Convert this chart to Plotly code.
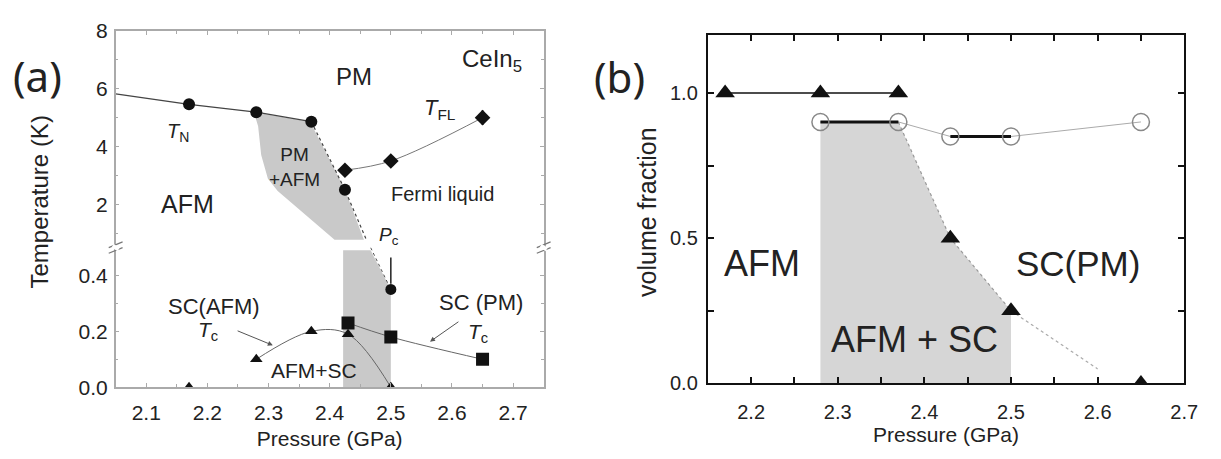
import plotly.graph_objects as go

# ---------------- panel (a): T-P phase diagram of CeIn5 ----------------
# Neel temperature T_N (upper scale)
tn_p = [2.05, 2.17, 2.28, 2.37, 2.425, 2.46]
tn_t = [5.82, 5.46, 5.19, 4.86, 2.50, 0.77]
tn_pts_p = [2.17, 2.28, 2.37, 2.425]
tn_pts_t = [5.46, 5.19, 4.86, 2.50]

# Fermi-liquid temperature T_FL with error bars
tfl_p = [2.425, 2.50, 2.65]
tfl_t = [3.18, 3.50, 5.00]
tfl_err_t = [0.15, 0.15, 0.25]
tfl_err_p = [0.007, 0.007, 0.007]

# PM + AFM coexistence region (upper scale)
pmafm_p = [2.276, 2.368, 2.425, 2.456, 2.408, 2.315, 2.299, 2.288, 2.283, 2.276]
pmafm_t = [5.19, 4.86, 2.50, 0.77, 0.77, 2.46, 2.88, 3.71, 4.70, 5.19]

# AFM + SC coexistence region (lower scale)
afmsc_p = [2.422, 2.422, 2.467, 2.50, 2.50]
afmsc_t = [0.0, 0.49, 0.49, 0.35, 0.0]

# boundary continuing to P_c
pc_line_p = [2.467, 2.50]
pc_line_t = [0.50, 0.35]
pc_p = [2.50]
pc_t = [0.35]

# superconducting T_c inside AFM (triangles)
tc_afm_p = [2.17, 2.28, 2.37, 2.43, 2.50]
tc_afm_t = [0.0, 0.10, 0.20, 0.19, 0.0]
tc_afm_curve_p = [2.28, 2.37, 2.43, 2.50]
tc_afm_curve_t = [0.10, 0.20, 0.19, 0.0]

# superconducting T_c in PM (squares)
tc_pm_p = [2.43, 2.50, 2.65]
tc_pm_t = [0.23, 0.18, 0.10]

# ---------------- panel (b): volume fractions ----------------
afm_vf_p = [2.17, 2.28, 2.37, 2.43, 2.50, 2.65]
afm_vf = [1.0, 1.0, 1.0, 0.50, 0.25, 0.0]
sc_vf_p = [2.28, 2.37, 2.43, 2.50, 2.65]
sc_vf = [0.90, 0.90, 0.85, 0.85, 0.90]
coex_p = [2.28, 2.28, 2.37, 2.43, 2.50, 2.50]
coex_v = [0.0, 0.90, 0.90, 0.50, 0.25, 0.0]
edge_p = [2.37, 2.43, 2.50]
edge_v = [0.90, 0.50, 0.25]
tail_p = [2.50, 2.60]
tail_v = [0.25, 0.05]

GREY = "#c9c9c9"
GREY_B = "#d6d6d6"
FONT = "Liberation Sans"

fig = go.Figure()

# ---- panel (a) lower part ----
fig.add_trace(go.Scatter(x=afmsc_p, y=afmsc_t, fill="toself", fillcolor=GREY,
                         line=dict(width=0), mode="lines", xaxis="x", yaxis="y"))
fig.add_trace(go.Scatter(x=pc_line_p, y=pc_line_t, mode="lines",
                         line=dict(color="#555", width=1, dash="dot"), xaxis="x", yaxis="y"))
fig.add_trace(go.Scatter(x=tc_afm_curve_p, y=tc_afm_curve_t, mode="lines", line_shape="spline",
                         line=dict(color="#666", width=1), xaxis="x", yaxis="y"))
fig.add_trace(go.Scatter(x=tc_pm_p, y=tc_pm_t, mode="lines", line_shape="spline",
                         line=dict(color="#666", width=1), xaxis="x", yaxis="y"))
fig.add_trace(go.Scatter(x=tc_afm_p, y=tc_afm_t, mode="markers",
                         marker=dict(symbol="triangle-up", size=11, color="#111"), xaxis="x", yaxis="y"))
fig.add_trace(go.Scatter(x=tc_pm_p, y=tc_pm_t, mode="markers",
                         marker=dict(symbol="square", size=13, color="#111"), xaxis="x", yaxis="y"))
fig.add_trace(go.Scatter(x=pc_p, y=pc_t, mode="markers",
                         marker=dict(symbol="circle", size=11, color="#111"), xaxis="x", yaxis="y"))

# ---- panel (a) upper part ----
fig.add_trace(go.Scatter(x=pmafm_p, y=pmafm_t, fill="toself", fillcolor=GREY,
                         line=dict(width=0), mode="lines", xaxis="x2", yaxis="y2"))
fig.add_trace(go.Scatter(x=tn_p[:4], y=tn_t[:4], mode="lines",
                         line=dict(color="#444", width=1.2), xaxis="x2", yaxis="y2"))
fig.add_trace(go.Scatter(x=tn_p[3:], y=tn_t[3:], mode="lines",
                         line=dict(color="#444", width=1.2, dash="dot"), xaxis="x2", yaxis="y2"))
fig.add_trace(go.Scatter(x=tfl_p, y=tfl_t, mode="lines", line_shape="spline",
                         line=dict(color="#777", width=1), xaxis="x2", yaxis="y2"))
fig.add_trace(go.Scatter(x=tn_pts_p, y=tn_pts_t, mode="markers",
                         marker=dict(symbol="circle", size=12, color="#111"), xaxis="x2", yaxis="y2"))
fig.add_trace(go.Scatter(x=tfl_p, y=tfl_t, mode="markers",
                         marker=dict(symbol="diamond", size=12, color="#111"),
                         error_y=dict(type="data", array=tfl_err_t, color="#111", thickness=2, width=0),
                         error_x=dict(type="data", array=tfl_err_p, color="#111", thickness=2, width=0),
                         xaxis="x2", yaxis="y2"))

# ---- panel (b) ----
fig.add_trace(go.Scatter(x=coex_p, y=coex_v, fill="toself", fillcolor=GREY_B,
                         line=dict(width=0), mode="lines", xaxis="x3", yaxis="y3"))
fig.add_trace(go.Scatter(x=edge_p, y=edge_v, mode="lines",
                         line=dict(color="#999", width=1.2, dash="dot"), xaxis="x3", yaxis="y3"))
fig.add_trace(go.Scatter(x=tail_p, y=tail_v, mode="lines",
                         line=dict(color="#aaa", width=1.2, dash="dot"), xaxis="x3", yaxis="y3"))
fig.add_trace(go.Scatter(x=afm_vf_p[:3], y=afm_vf[:3], mode="lines",
                         line=dict(color="#111", width=1.5), xaxis="x3", yaxis="y3"))
fig.add_trace(go.Scatter(x=sc_vf_p, y=sc_vf, mode="lines",
                         line=dict(color="#aaa", width=1), xaxis="x3", yaxis="y3"))
fig.add_trace(go.Scatter(x=sc_vf_p[:2], y=sc_vf[:2], mode="lines",
                         line=dict(color="#111", width=3), xaxis="x3", yaxis="y3"))
fig.add_trace(go.Scatter(x=sc_vf_p[2:4], y=sc_vf[2:4], mode="lines",
                         line=dict(color="#111", width=3), xaxis="x3", yaxis="y3"))
fig.add_trace(go.Scatter(x=afm_vf_p, y=afm_vf, mode="markers",
                         marker=dict(symbol="triangle-up", size=17, color="#111"), xaxis="x3", yaxis="y3"))
fig.add_trace(go.Scatter(x=sc_vf_p, y=sc_vf, mode="markers",
                         marker=dict(symbol="circle-open", size=17, color="#888",
                                     line=dict(width=1.5, color="#888")), xaxis="x3", yaxis="y3"))

axis_a = dict(showgrid=False, zeroline=False, showline=True, linecolor="#aaa", linewidth=1.5,
              ticks="inside", tickcolor="#aaa", ticklen=4,
              tickfont=dict(family=FONT, size=21, color="#222"))
axis_b = dict(showgrid=False, zeroline=False, showline=True, linecolor="#111", linewidth=2,
              ticks="inside", tickcolor="#111", ticklen=6, tickwidth=2,
              tickfont=dict(family=FONT, size=20, color="#222"))

ya_lo = [1 - 395 / 459, 1 - 248 / 459]
ya_hi = [1 - 248 / 459, 1 - 20 / 459]
xa_dom = [117 / 1221, 550 / 1221]
xb_dom = [716 / 1221, 1198 / 1221]
yb_dom = [1 - 391 / 459, 1 - 24 / 459]

fig.update_layout(
    width=1221, height=459, margin=dict(l=0, r=0, t=0, b=0),
    paper_bgcolor="white", plot_bgcolor="white", showlegend=False,
    xaxis=dict(axis_a, domain=xa_dom, range=[2.05, 2.75], anchor="y", ticklabelstandoff=6,
               tickvals=[2.1, 2.2, 2.3, 2.4, 2.5, 2.6, 2.7],
               minor=dict(dtick=0.05, tick0=2.05, ticks="inside", ticklen=3, tickcolor="#aaa"),
               title=dict(text="Pressure (GPa)", font=dict(family=FONT, size=21, color="#222"),
                          standoff=8)),
    yaxis=dict(axis_a, domain=ya_lo, range=[0, 0.5], anchor="x", mirror="ticks",
               tickvals=[0.0, 0.2, 0.4], ticktext=["0.0", "0.2", "0.4"], ticklabelstandoff=2,
               minor=dict(dtick=0.1, ticks="inside", ticklen=3, tickcolor="#aaa")),
    xaxis2=dict(axis_a, domain=xa_dom, range=[2.05, 2.75], anchor="y2", side="top",
                matches="x", showticklabels=False,
                tickvals=[2.1, 2.2, 2.3, 2.4, 2.5, 2.6, 2.7],
                minor=dict(dtick=0.05, tick0=2.05, ticks="inside", ticklen=3, tickcolor="#aaa")),
    yaxis2=dict(axis_a, domain=ya_hi, range=[0.5, 8], anchor="x2", mirror="ticks",
                tickvals=[2, 4, 6, 8], ticklabelstandoff=2,
                minor=dict(dtick=1, tick0=0, ticks="inside", ticklen=3, tickcolor="#aaa")),
    xaxis3=dict(axis_b, domain=xb_dom, range=[2.15, 2.7], anchor="y3", mirror="ticks",
                tickvals=[2.2, 2.3, 2.4, 2.5, 2.6, 2.7], ticklabelstandoff=10,
                minor=dict(dtick=0.05, tick0=2.15, ticks="inside", ticklen=6, tickcolor="#111"),
                title=dict(text="Pressure (GPa)", font=dict(family=FONT, size=21, color="#222"),
                           standoff=4)),
    yaxis3=dict(axis_b, domain=yb_dom, range=[0, 1.2], anchor="x3", mirror="ticks",
                tickvals=[0.0, 0.5, 1.0], ticktext=["0.0", "0.5", "1.0"], ticklabelstandoff=4,
                minor=dict(dtick=0.25, ticks="inside", ticklen=6, tickcolor="#111")),
)

# axis break marks on the temperature axis
yb = 248
for xp in (117, 550):
    for dy in (-3, 3):
        fig.add_shape(type="line", xref="paper", yref="paper",
                      x0=(xp - 7) / 1221, x1=(xp + 7) / 1221,
                      y0=1 - (yb + dy + 3) / 459, y1=1 - (yb + dy - 3) / 459,
                      line=dict(color="#777", width=1.2))
    fig.add_shape(type="line", xref="paper", yref="paper",
                  x0=(xp - 3) / 1221, x1=(xp + 3) / 1221,
                  y0=1 - (yb - 2) / 459, y1=1 - (yb + 2) / 459,
                  line=dict(color="white", width=4))


def px(xp, yp, s, size, family=FONT, **kw):
    fig.add_annotation(x=xp / 1221, y=1 - yp / 459, xref="paper", yref="paper", text=s,
                       showarrow=False, xanchor="center", yanchor="middle",
                       font=dict(family=family, size=size, color="#222"), **kw)


# panel titles and rotated axis titles
px(38, 67, "(a)", 42, family="Noto Sans")
px(627, 68, "(b)", 42, family="Noto Sans")
px(40, 200, "Temperature (K)", 24, textangle=-90)
px(655, 210, "volume fraction", 25, textangle=-90)

# panel (a) labels
px(358, 68, "PM", 24)
px(498, 51, "CeIn<sub>5</sub>", 24)
px(445, 102, "<i>T</i><sub>FL</sub>", 22)
px(180, 127, "<i>T</i><sub>N</sub>", 20)
px(190, 202, "AFM", 25)
px(298, 163, "PM<br>+AFM", 19)
px(448, 192, "Fermi liquid", 20)
px(394, 236, "<i>P</i><sub>c</sub>", 19)
px(216, 310, "SC(AFM)", 22)
px(210, 336, "<i>T</i><sub>c</sub>", 21)
px(318, 377, "AFM+SC", 21)
px(487, 306, "SC (PM)", 22)
px(484, 338, "<i>T</i><sub>c</sub>", 21)

# arrows (panel a, lower scale)
fig.add_annotation(x=2.307, y=0.15, ax=2.247, ay=0.204, xref="x", yref="y", axref="x", ayref="y",
                   showarrow=True, arrowhead=2, arrowsize=1, arrowwidth=1, arrowcolor="#555", text="")
fig.add_annotation(x=2.564, y=0.163, ax=2.613, ay=0.238, xref="x", yref="y", axref="x", ayref="y",
                   showarrow=True, arrowhead=2, arrowsize=1, arrowwidth=1, arrowcolor="#555", text="")
fig.add_annotation(x=2.50, y=0.37, ax=2.50, ay=0.47, xref="x", yref="y", axref="x", ayref="y",
                   showarrow=True, arrowhead=0, arrowwidth=1.5, arrowcolor="#222", text="")

# panel (b) labels
px(771, 265, "AFM", 36)
px(1090, 265, "SC(PM)", 35)
px(925, 345, "AFM + SC", 36)

fig.write_html("out.html")
